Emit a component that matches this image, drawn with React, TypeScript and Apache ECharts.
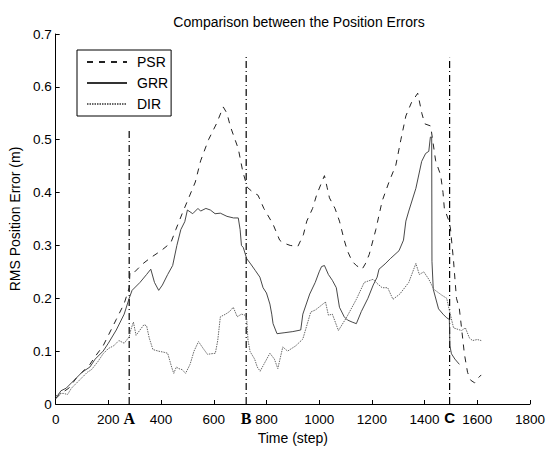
import React, { useEffect, useRef } from "react";
import * as echarts from "echarts";

const psr: [number, number][] = [
  [0, 0.01], [20, 0.02], [50, 0.03], [80, 0.05], [100, 0.06], [130, 0.075], [150, 0.09], [180, 0.11],
  [200, 0.13], [230, 0.16], [260, 0.19], [279, 0.22], [282, 0.25], [300, 0.25], [330, 0.265], [361, 0.277],
  [400, 0.29], [437, 0.305], [456, 0.33], [480, 0.36], [505, 0.39], [530, 0.42], [550, 0.46], [580, 0.5],
  [610, 0.53], [636, 0.562], [650, 0.55], [663, 0.525], [693, 0.483], [710, 0.44], [727, 0.41], [750, 0.4],
  [768, 0.395], [790, 0.37], [825, 0.34], [850, 0.31], [862, 0.305], [890, 0.3], [919, 0.298], [940, 0.32],
  [953, 0.346], [975, 0.37], [990, 0.395], [1010, 0.42], [1020, 0.432], [1030, 0.41], [1039, 0.39],
  [1060, 0.37], [1077, 0.346], [1095, 0.31], [1107, 0.29], [1125, 0.27], [1141, 0.262], [1163, 0.255],
  [1175, 0.265], [1190, 0.283], [1215, 0.33], [1239, 0.384], [1265, 0.42], [1291, 0.452], [1310, 0.5],
  [1329, 0.545], [1350, 0.57], [1374, 0.588], [1390, 0.549], [1401, 0.53], [1423, 0.526], [1442, 0.46],
  [1461, 0.433], [1470, 0.4], [1475, 0.37], [1491, 0.348], [1498, 0.333], [1510, 0.27], [1521, 0.2],
  [1532, 0.18], [1540, 0.145], [1551, 0.095], [1563, 0.06], [1575, 0.045], [1590, 0.04], [1605, 0.05],
  [1615, 0.055],
];

const grr: [number, number][] = [
  [0, 0.01], [20, 0.025], [40, 0.03], [60, 0.04], [80, 0.05], [100, 0.06], [130, 0.07], [150, 0.085],
  [180, 0.1], [200, 0.115], [230, 0.14], [260, 0.17], [279, 0.2], [290, 0.215], [320, 0.23], [345, 0.245],
  [361, 0.255], [375, 0.23], [391, 0.215], [405, 0.225], [425, 0.245], [444, 0.262], [460, 0.3], [475, 0.33],
  [490, 0.345], [500, 0.367], [520, 0.36], [540, 0.37], [550, 0.365], [570, 0.37], [587, 0.367], [605, 0.36],
  [625, 0.361], [650, 0.355], [675, 0.352], [693, 0.352], [700, 0.33], [705, 0.3], [712, 0.296], [725, 0.275],
  [740, 0.265], [757, 0.253], [775, 0.24], [787, 0.22], [800, 0.21], [813, 0.189], [820, 0.17], [825, 0.152],
  [840, 0.133], [870, 0.135], [900, 0.137], [930, 0.14], [938, 0.17], [964, 0.208], [985, 0.23], [1000, 0.25],
  [1009, 0.26], [1020, 0.262], [1035, 0.245], [1050, 0.234], [1065, 0.22], [1077, 0.183], [1095, 0.165],
  [1107, 0.159], [1125, 0.155], [1141, 0.152], [1160, 0.175], [1185, 0.2], [1205, 0.225], [1220, 0.24],
  [1227, 0.255], [1250, 0.265], [1270, 0.275], [1303, 0.29], [1320, 0.31], [1329, 0.346], [1340, 0.365],
  [1367, 0.408], [1389, 0.459], [1404, 0.474], [1416, 0.478], [1422, 0.505], [1427, 0.505], [1428, 0.27],
  [1433, 0.217], [1453, 0.18], [1470, 0.17], [1484, 0.163], [1494, 0.16], [1496, 0.11], [1502, 0.095],
  [1515, 0.085], [1532, 0.075],
];

const dir: [number, number][] = [
  [0, 0.015], [15, 0.02], [30, 0.02], [45, 0.018], [60, 0.03], [80, 0.04], [100, 0.05], [120, 0.06],
  [136, 0.065], [160, 0.08], [180, 0.095], [200, 0.105], [220, 0.11], [240, 0.12], [260, 0.115], [279, 0.127],
  [285, 0.14], [295, 0.155], [305, 0.13], [320, 0.14], [335, 0.15], [345, 0.148], [355, 0.125], [369, 0.103],
  [390, 0.1], [410, 0.098], [425, 0.096], [440, 0.07], [448, 0.058], [458, 0.07], [467, 0.067], [480, 0.065],
  [493, 0.058], [510, 0.075], [525, 0.1], [542, 0.118], [560, 0.105], [576, 0.094], [590, 0.095], [606, 0.096],
  [615, 0.12], [625, 0.165], [645, 0.17], [660, 0.175], [674, 0.183], [689, 0.165], [705, 0.17], [719, 0.168],
  [725, 0.16], [730, 0.12], [738, 0.099], [755, 0.085], [765, 0.07], [776, 0.062], [790, 0.075], [813, 0.096],
  [830, 0.085], [843, 0.067], [862, 0.108], [880, 0.1], [911, 0.11], [938, 0.123], [968, 0.174], [986, 0.178],
  [1024, 0.193], [1035, 0.168], [1050, 0.17], [1073, 0.139], [1103, 0.163], [1141, 0.198], [1171, 0.23],
  [1205, 0.236], [1220, 0.228], [1239, 0.22], [1260, 0.22], [1280, 0.198], [1306, 0.208], [1340, 0.23],
  [1367, 0.266], [1380, 0.245], [1397, 0.25], [1416, 0.236], [1435, 0.217], [1465, 0.206], [1484, 0.2],
  [1495, 0.175], [1510, 0.144], [1540, 0.139], [1555, 0.144], [1570, 0.125], [1582, 0.12], [1600, 0.122],
  [1615, 0.12],
];

const xTicks = { min: 0, max: 1800, interval: 200 };
const yTicks = { min: 0, max: 0.7, interval: 0.1 };
const markerSteps = [279, 723, 1495];
const markerTops = [0.52, 0.66, 0.655];
const markerLabels = ["A", "B", "C"];

export default function App() {
  const ref = useRef<HTMLDivElement>(null);
  useEffect(() => {
    if (!ref.current) return;
    const chart = echarts.init(ref.current, undefined, { renderer: "svg" });
    const font = "Liberation Sans, Arial, sans-serif";
    const markerSeries = markerSteps.map((s, i) => ({
      type: "line",
      name: "m" + i,
      data: [[s, 0], [s, markerTops[i]]],
      showSymbol: false,
      symbol: "none",
      silent: true,
      lineStyle: { color: "#000", width: 1.2, type: [7, 3, 1, 3] },
      z: 1,
    }));
    chart.setOption({
      animation: false,
      backgroundColor: "#fff",
      title: {
        text: "Comparison between the Position Errors",
        left: 294,
        textAlign: "center",
        top: 10,
        textStyle: { fontFamily: font, fontSize: 14, fontWeight: "normal", color: "#000" },
      },
      grid: { left: 54, right: 16, top: 34, bottom: 42, containLabel: false },
      legend: {
        data: ["PSR", "GRR", "DIR"],
        orient: "vertical",
        left: 77,
        top: 50,
        padding: [5, 3, 5, 9],
        itemGap: 7,
        itemWidth: 40,
        itemHeight: 14,
        borderColor: "#000",
        borderWidth: 1,
        borderRadius: 0,
        backgroundColor: "#fff",
        itemStyle: { opacity: 0 },
        textStyle: { fontFamily: font, fontSize: 14, color: "#000", padding: [0, 0, 0, 5] },
      },
      xAxis: {
        type: "value",
        min: xTicks.min,
        max: xTicks.max,
        interval: xTicks.interval,
        name: "Time (step)",
        nameLocation: "middle",
        nameGap: 27,
        nameTextStyle: { fontFamily: font, fontSize: 14, color: "#000" },
        axisLine: { lineStyle: { color: "#000", width: 1 } },
        axisTick: { inside: true, length: 4, lineStyle: { color: "#000" } },
        axisLabel: {
          fontFamily: font,
          fontSize: 13.5,
          color: "#000",
          margin: 8,
          formatter: (v: number) => String(v),
        },
        splitLine: { show: false },
      },
      yAxis: {
        type: "value",
        min: yTicks.min,
        max: yTicks.max,
        interval: yTicks.interval,
        name: "RMS Position Error (m)",
        nameLocation: "middle",
        nameGap: 30,
        nameTextStyle: { fontFamily: font, fontSize: 14, color: "#000" },
        axisLine: { show: true, lineStyle: { color: "#000", width: 1 } },
        axisTick: { show: true, inside: true, length: 4, lineStyle: { color: "#000" } },
        axisLabel: {
          fontFamily: font,
          fontSize: 13.5,
          color: "#000",
          margin: 4,
          formatter: (v: number) => (v === 0 ? "0" : v.toFixed(1)),
        },
        splitLine: { show: false },
      },
      series: [
        {
          type: "line",
          name: "PSR",
          data: psr,
          showSymbol: false,
          symbol: "none",
          itemStyle: { color: "#222" },
          lineStyle: { color: "#222", width: 1, type: [6, 6] },
          z: 3,
        },
        {
          type: "line",
          name: "GRR",
          data: grr,
          showSymbol: false,
          symbol: "none",
          itemStyle: { color: "#333" },
          lineStyle: { color: "#333", width: 0.9, type: "solid" },
          z: 3,
        },
        {
          type: "line",
          name: "DIR",
          data: dir,
          showSymbol: false,
          symbol: "none",
          itemStyle: { color: "#666" },
          lineStyle: { color: "#666", width: 1, type: [1.5, 1] },
          z: 3,
        },
        ...markerSeries,
      ],
    });
    const texts = markerSteps.map((s, i) => {
      const p = chart.convertToPixel({ gridIndex: 0 }, [s, 0]) as number[];
      return {
        type: "text",
        x: p[0],
        y: p[1] + 6,
        style: {
          text: markerLabels[i],
          fill: "#000",
          font:
            i < 2
              ? "bold 16px 'Liberation Serif', 'Times New Roman', serif"
              : "bold 15px 'Liberation Sans', Arial, sans-serif",
          textAlign: "center",
          textVerticalAlign: "top",
        },
      };
    });
    chart.setOption({ graphic: texts });
    return () => chart.dispose();
  }, []);
  return (
    <div
      ref={ref}
      style={{ position: "fixed", left: 0, top: 0, width: 548, height: 450, background: "#fff" }}
    />
  );
}
